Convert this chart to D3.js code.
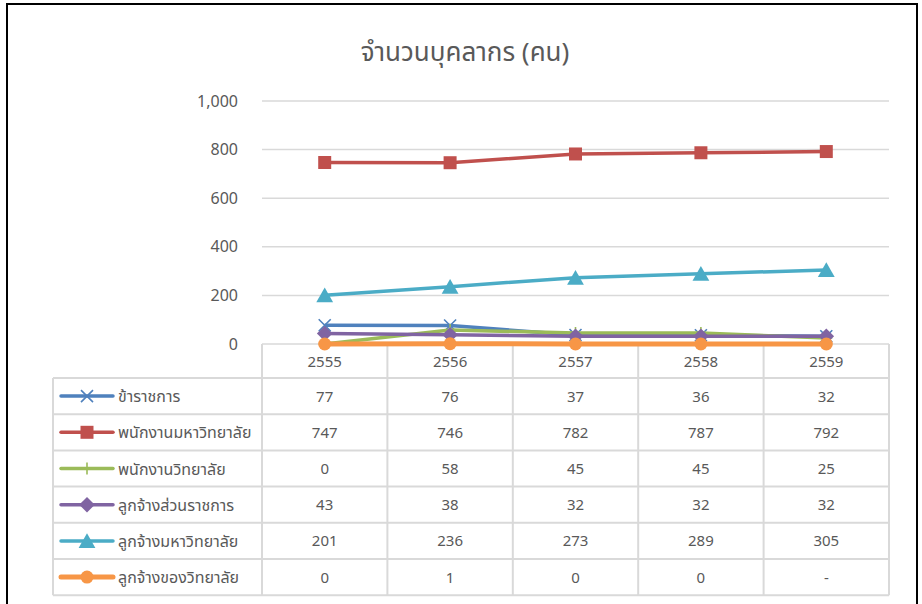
<!DOCTYPE html>
<meta charset="utf-8">
<html>
<head>
<style>
  body { margin: 0; background: #fff; }
  text { font-family: "Noto Sans Thai", "Leelawadee UI", Tahoma, "DejaVu Sans", sans-serif; fill: #595959; }
</style>
<script src="https://d3js.org/d3.v7.min.js"></script>
</head>
<body>
<div id="chart"></div>
<script>
// data
var years = ["2555", "2556", "2557", "2558", "2559"];
var seriesNames = ["ข้าราชการ", "พนักงานมหาวิทยาลัย", "พนักงานวิทยาลัย", "ลูกจ้างส่วนราชการ", "ลูกจ้างมหาวิทยาลัย", "ลูกจ้างของวิทยาลัย"];
var civilServants = [77, 76, 37, 36, 32];
var univStaff = [747, 746, 782, 787, 792];
var collegeStaff = [0, 58, 45, 45, 25];
var govEmployees = [43, 38, 32, 32, 32];
var univEmployees = [201, 236, 273, 289, 305];
var collegeEmployees = [0, 1, 0, 0, null]; // "-" in the table
var yTicks = [0, 200, 400, 600, 800, 1000];

var colors = ["#4F81BD", "#C0504D", "#9BBB59", "#8064A2", "#4BACC6", "#F79646"];
var markers = ["x", "square", "plus", "diamond", "triangle", "circle"];
var allValues = [civilServants, univStaff, collegeStaff, govEmployees, univEmployees, collegeEmployees];

var series = seriesNames.map(function(n, i) {
  return {name: n, values: allValues[i], color: colors[i], marker: markers[i]};
});

var W = 922, H = 604;
var svg = d3.select("#chart").append("svg").attr("width", W).attr("height", H);

// outer frame
svg.append("path")
  .attr("d", "M7,604 V4 H917 V604")
  .attr("fill", "none").attr("stroke", "#000").attr("stroke-width", 2);

svg.append("text")
  .attr("x", 465).attr("y", 61)
  .attr("text-anchor", "middle")
  .attr("font-size", "26px")
  .text("จำนวนบุคลากร (คน)");

var plotLeft = 262, plotRight = 889;
var x = d3.scaleBand().domain(years).range([plotLeft, plotRight]);
var y = d3.scaleLinear().domain([0, 1000]).range([344, 101]);

// gridlines
svg.append("g")
  .selectAll("line").data(yTicks).enter().append("line")
  .attr("x1", plotLeft).attr("x2", plotRight)
  .attr("y1", function(d) { return y(d); }).attr("y2", function(d) { return y(d); })
  .attr("stroke", "#d9d9d9").attr("stroke-width", 1.5);

// y axis labels
var yAxis = svg.append("g")
  .attr("transform", "translate(" + (plotLeft - 24) + ",0)")
  .call(d3.axisLeft(y).tickValues(yTicks).tickFormat(d3.format(",")).tickSize(0).tickPadding(0));
yAxis.select(".domain").remove();
yAxis.selectAll("text")
  .attr("font-size", "16px")
  .attr("fill", "#595959")
  .style("font-family", "\"Noto Sans Thai\", Tahoma, \"DejaVu Sans\", sans-serif");

// data table
var rowTop = 378, rowH = 36.2, tableLeft = 53;
var grid = svg.append("g").attr("stroke", "#d9d9d9").attr("stroke-width", 2).attr("fill", "none");
// vertical lines
x.domain().concat(["end"]).forEach(function(d, i) {
  var xx = i < years.length ? x(d) : plotRight;
  grid.append("line").attr("x1", xx).attr("x2", xx).attr("y1", 344).attr("y2", rowTop + rowH * 6);
});
grid.append("line").attr("x1", tableLeft).attr("x2", tableLeft).attr("y1", rowTop).attr("y2", rowTop + rowH * 6);
for (var r = 0; r <= 6; r++) {
  grid.append("line").attr("x1", tableLeft).attr("x2", plotRight)
    .attr("y1", rowTop + r * rowH).attr("y2", rowTop + r * rowH);
}

// year labels
svg.append("g").selectAll("text").data(years).enter().append("text")
  .attr("x", function(d) { return x(d) + x.bandwidth() / 2; })
  .attr("y", 367)
  .attr("text-anchor", "middle")
  .attr("font-size", "15px")
  .text(function(d) { return d; });

function markerPath(type, size) {
  var s = size;
  if (type === "square") return d3.symbol(d3.symbolSquare, s * s)();
  if (type === "diamond") return "M0," + (-s * 0.6) + "L" + (s * 0.6) + ",0L0," + (s * 0.6) + "L" + (-s * 0.6) + ",0Z";
  if (type === "triangle") return "M0," + (-s * 0.55) + "L" + (s * 0.6) + "," + (s * 0.5) + "L" + (-s * 0.6) + "," + (s * 0.5) + "Z";
  if (type === "circle") return d3.symbol(d3.symbolCircle, Math.PI * (s / 2) * (s / 2))();
  return "";
}

function drawMarker(g, d, cx, cy) {
  var sizes = {x: 12, square: 13, plus: 12, diamond: 13, triangle: 14, circle: 13};
  var s = sizes[d.marker];
  var m = g.append("g").attr("transform", "translate(" + cx + "," + cy + ")");
  if (d.marker === "x") {
    var h = s / 2;
    m.append("path").attr("d", "M" + -h + "," + -h + "L" + h + "," + h + "M" + h + "," + -h + "L" + -h + "," + h)
      .attr("stroke", d.color).attr("stroke-width", 1.6).attr("fill", "none");
  } else if (d.marker === "plus") {
    var p = s / 2;
    m.append("path").attr("d", "M0," + -p + "V" + p + "M" + -p + ",0H" + p)
      .attr("stroke", d.color).attr("stroke-width", 1.6).attr("fill", "none");
  } else {
    m.append("path").attr("d", markerPath(d.marker, s)).attr("fill", d.color);
  }
}

// lines
var line = d3.line()
  .x(function(d, i) { return x(years[i]) + x.bandwidth() / 2; })
  .y(function(d) { return y(d == null ? 0 : d); });

series.forEach(function(s) {
  var g = svg.append("g");
  g.append("path").datum(s.values)
    .attr("d", line)
    .attr("fill", "none")
    .attr("stroke", s.color)
    .attr("stroke-width", s.marker === "circle" ? 5 : 3.5)
    .attr("stroke-linejoin", "round");
  s.values.forEach(function(v, i) {
    drawMarker(g, s, x(years[i]) + x.bandwidth() / 2, y(v == null ? 0 : v));
  });
});

// table rows
series.forEach(function(s, r) {
  var cy = rowTop + r * rowH + rowH / 2;
  var g = svg.append("g");
  g.append("line").attr("x1", 61).attr("x2", 113).attr("y1", cy).attr("y2", cy)
    .attr("stroke", s.color).attr("stroke-width", s.marker === "circle" ? 5 : 3.5)
    .attr("stroke-linecap", "round");
  drawMarker(g, s, 87, cy);
  g.append("text").attr("x", 118).attr("y", cy + 6)
    .attr("font-size", "16px")
    .text(s.name);
  g.selectAll("text.val").data(s.values).enter().append("text")
    .attr("class", "val")
    .attr("x", function(d, i) { return x(years[i]) + x.bandwidth() / 2; })
    .attr("y", cy + 5.5)
    .attr("text-anchor", "middle")
    .attr("font-size", "15px")
    .text(function(d) { return d == null ? "-" : d; });
});
</script>
</body>
</html>
